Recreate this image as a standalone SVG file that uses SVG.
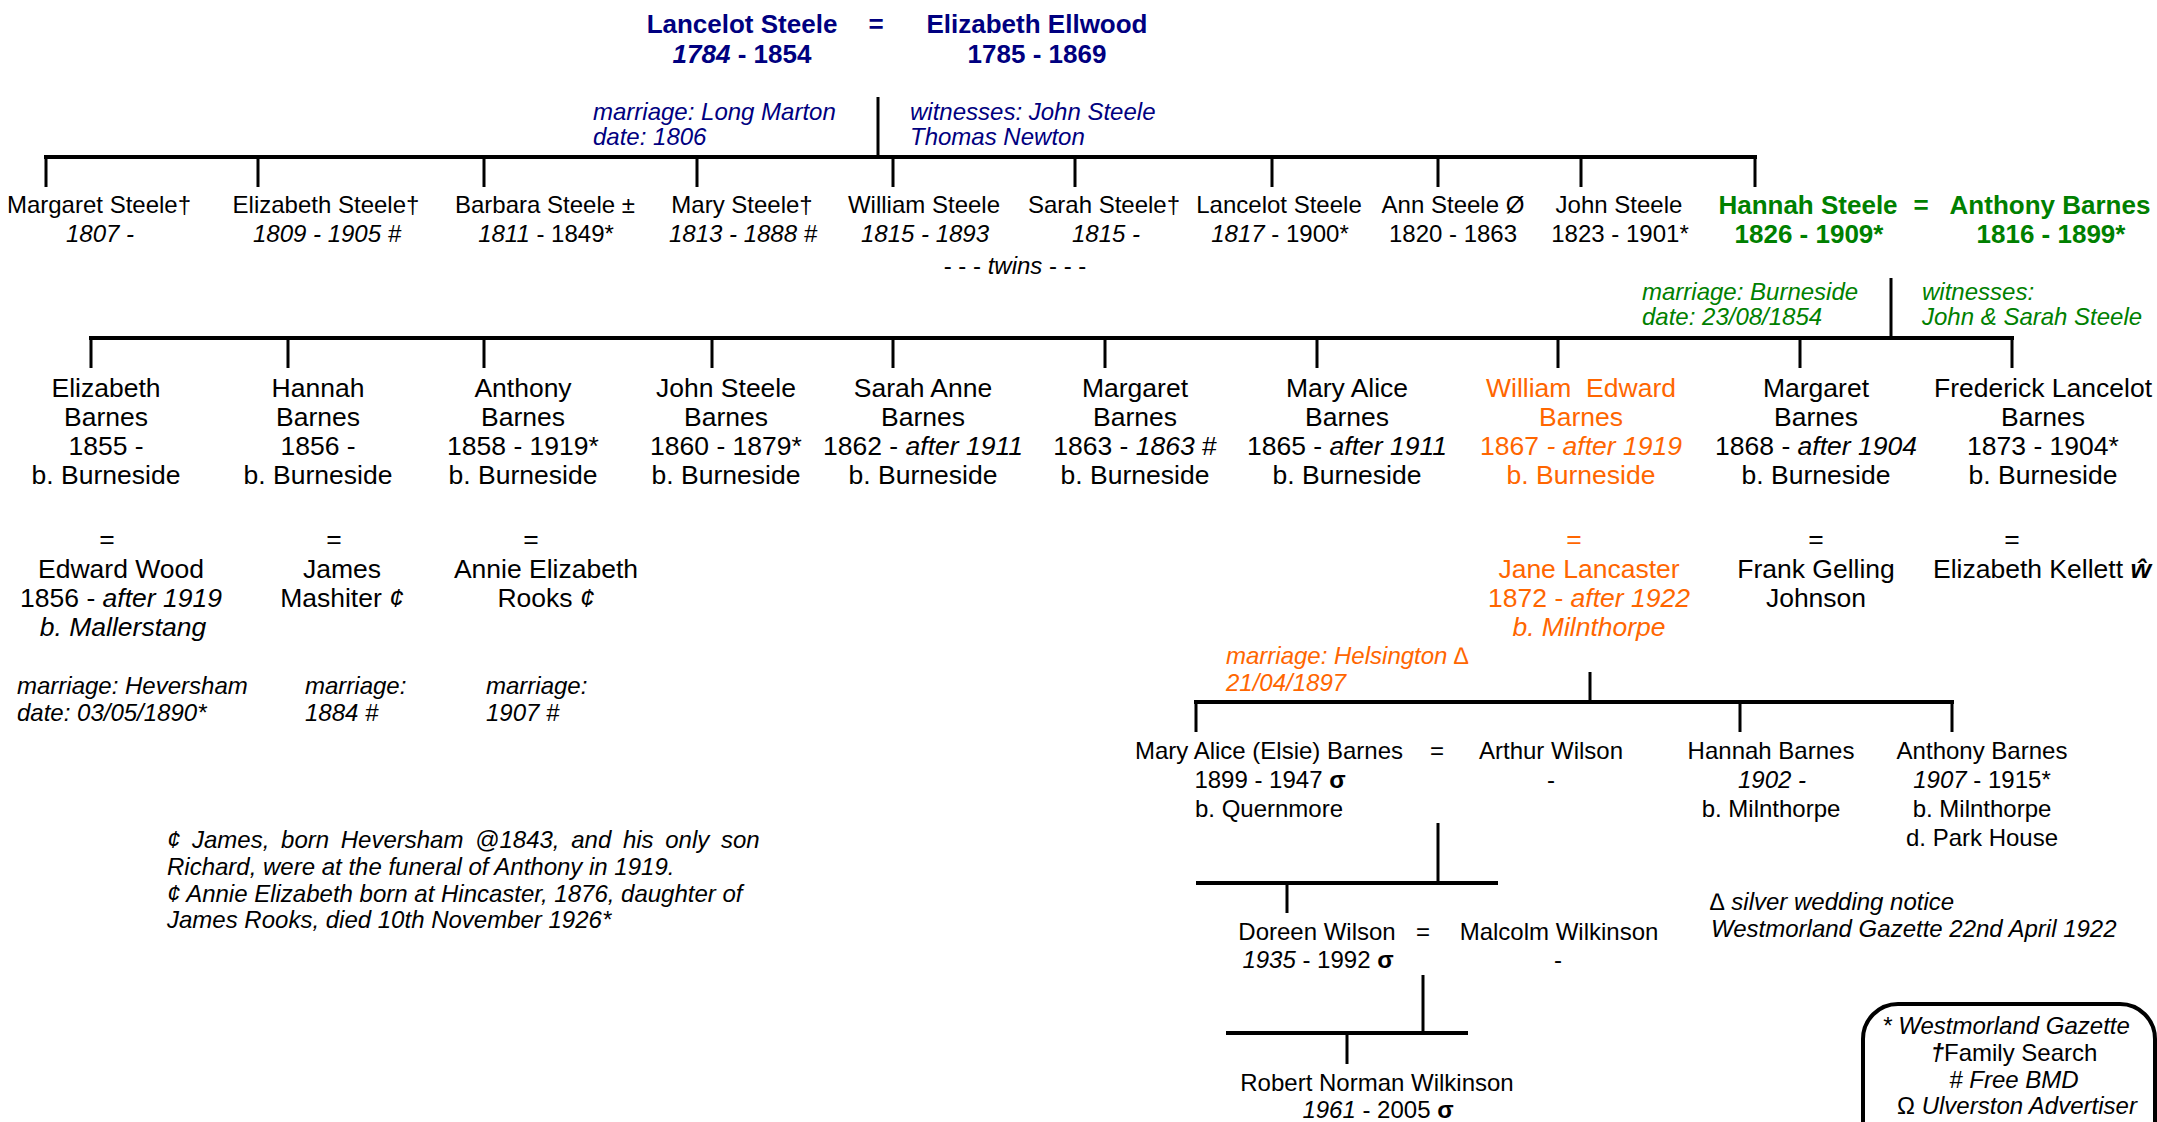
<svg xmlns="http://www.w3.org/2000/svg" width="2157" height="1122" viewBox="0 0 2157 1122">
<style>
text{font-family:"Liberation Sans",Arial,sans-serif;fill:#000}
.s24{font-size:24px}
.s26{font-size:26.5px}
.c{text-anchor:middle}
.b{font-weight:bold;font-size:26px}
.i{font-style:italic}
.r{font-style:normal}
.navy{fill:#000080}
.green{fill:#008000}
.orange{fill:#ff6600}
.h{stroke:#000;stroke-width:4;fill:none}
.v{stroke:#000;stroke-width:3;fill:none}
</style>
<rect width="2157" height="1122" fill="#fff"/>

<g id="connectors">
  <line class="v" x1="878" y1="97" x2="878" y2="157"/>
  <line class="h" x1="44" y1="157" x2="1757" y2="157"/>
  <path class="v" d="M46 157V187M258 157V187M484 157V187M697 157V187M893 157V187M1075 157V187M1272 157V187M1438 157V187M1581 157V187M1755 157V187"/>
  <line class="v" x1="1891" y1="278" x2="1891" y2="338"/>
  <line class="h" x1="89" y1="338" x2="2014" y2="338"/>
  <path class="v" d="M91 338V368M288 338V368M484 338V368M712 338V368M893 338V368M1105 338V368M1317 338V368M1558 338V368M1800 338V368M2012 338V368"/>
  <line class="v" x1="1590" y1="672" x2="1590" y2="702"/>
  <line class="h" x1="1194" y1="702" x2="1954" y2="702"/>
  <path class="v" d="M1196 702V732M1740 702V732M1952 702V732"/>
  <line class="v" x1="1438" y1="823" x2="1438" y2="883"/>
  <line class="h" x1="1196" y1="883" x2="1498" y2="883"/>
  <line class="v" x1="1287" y1="883" x2="1287" y2="913"/>
  <line class="v" x1="1423" y1="975" x2="1423" y2="1033"/>
  <line class="h" x1="1226" y1="1033" x2="1468" y2="1033"/>
  <line class="v" x1="1347" y1="1033" x2="1347" y2="1064"/>
</g>

<g id="lancelot-elizabeth">
  <text class="b navy c" x="742" y="33">Lancelot Steele</text>
  <text class="b navy c" x="742" y="63"><tspan class="i">1784</tspan> - 1854</text>
  <text class="b navy c" x="876" y="33">=</text>
  <text class="b navy c" x="1037" y="33">Elizabeth Ellwood</text>
  <text class="b navy c" x="1037" y="63">1785 - 1869</text>
</g>
<g id="marriage1">
  <text class="s24 i navy" x="593" y="120">marriage: Long Marton</text>
  <text class="s24 i navy" x="593" y="145">date: 1806</text>
  <text class="s24 i navy" x="910" y="120">witnesses: John Steele</text>
  <text class="s24 i navy" x="910" y="145">Thomas Newton</text>
</g>

<g id="margaret-steele"><text class="s24 c" x="99" y="213">Margaret Steele†</text><text class="s24 c i" x="100" y="242">1807 -</text></g>
<g id="elizabeth-steele"><text class="s24 c" x="326" y="213">Elizabeth Steele†</text><text class="s24 c i" x="327" y="242">1809 - 1905 #</text></g>
<g id="barbara-steele"><text class="s24 c" x="545" y="213">Barbara Steele ±</text><text class="s24 c" x="546" y="242"><tspan class="i">1811</tspan> - 1849*</text></g>
<g id="mary-steele"><text class="s24 c" x="742" y="213">Mary Steele†</text><text class="s24 c i" x="743" y="242">1813 - 1888 #</text></g>
<g id="william-steele"><text class="s24 c" x="924" y="213">William Steele</text><text class="s24 c i" x="925" y="242">1815 - 1893</text></g>
<g id="sarah-steele"><text class="s24 c" x="1104" y="213">Sarah Steele†</text><text class="s24 c i" x="1106" y="242">1815 -</text></g>
<g id="twins"><text class="s24 c" x="1015" y="274">- - -  <tspan class="i">twins</tspan>  - - -</text></g>
<g id="lancelot-steele"><text class="s24 c" x="1279" y="213">Lancelot Steele</text><text class="s24 c" x="1280" y="242"><tspan class="i">1817</tspan> - 1900*</text></g>
<g id="ann-steele"><text class="s24 c" x="1453" y="213">Ann Steele Ø</text><text class="s24 c" x="1453" y="242">1820 - 1863</text></g>
<g id="john-steele"><text class="s24 c" x="1619" y="213">John Steele</text><text class="s24 c" x="1620" y="242">1823 - 1901*</text></g>
<g id="hannah-anthony">
  <text class="b green c" x="1808" y="214">Hannah Steele</text>
  <text class="b green c" x="1809" y="243">1826 - 1909*</text>
  <text class="b green c" x="1921" y="214">=</text>
  <text class="b green c" x="2050" y="214">Anthony Barnes</text>
  <text class="b green c" x="2051" y="243">1816 - 1899*</text>
</g>
<g id="marriage2">
  <text class="s24 i green" x="1642" y="300">marriage: Burneside</text>
  <text class="s24 i green" x="1642" y="325">date: 23/08/1854</text>
  <text class="s24 i green" x="1922" y="300">witnesses:</text>
  <text class="s24 i green" x="1922" y="325">John &amp; Sarah Steele</text>
</g>

<g id="elizabeth-barnes" class="s26">
  <text class="s26 c" x="106" y="397">Elizabeth</text><text class="s26 c" x="106" y="426">Barnes</text><text class="s26 c" x="106" y="455">1855 -</text><text class="s26 c" x="106" y="484">b. Burneside</text>
  <text class="s26 c" x="107" y="548">=</text>
  <text class="s26 c" x="121" y="578">Edward Wood</text><text class="s26 c" x="121" y="607">1856 - <tspan class="i">after 1919</tspan></text><text class="s26 c i" x="123" y="636">b. Mallerstang</text>
</g>
<g id="hannah-barnes">
  <text class="s26 c" x="318" y="397">Hannah</text><text class="s26 c" x="318" y="426">Barnes</text><text class="s26 c" x="318" y="455">1856 -</text><text class="s26 c" x="318" y="484">b. Burneside</text>
  <text class="s26 c" x="334" y="548">=</text>
  <text class="s26 c" x="342" y="578">James</text><text class="s26 c" x="342" y="607">Mashiter <tspan class="i">¢</tspan></text>
</g>
<g id="anthony-barnes">
  <text class="s26 c" x="523" y="397">Anthony</text><text class="s26 c" x="523" y="426">Barnes</text><text class="s26 c" x="523" y="455">1858 - 1919*</text><text class="s26 c" x="523" y="484">b. Burneside</text>
  <text class="s26 c" x="531" y="548">=</text>
  <text class="s26 c" x="546" y="578">Annie Elizabeth</text><text class="s26 c" x="546" y="607">Rooks <tspan class="i">¢</tspan></text>
</g>
<g id="john-steele-barnes">
  <text class="s26 c" x="726" y="397">John Steele</text><text class="s26 c" x="726" y="426">Barnes</text><text class="s26 c" x="726" y="455">1860 - 1879*</text><text class="s26 c" x="726" y="484">b. Burneside</text>
</g>
<g id="sarah-anne-barnes">
  <text class="s26 c" x="923" y="397">Sarah Anne</text><text class="s26 c" x="923" y="426">Barnes</text><text class="s26 c" x="923" y="455">1862 - <tspan class="i">after 1911</tspan></text><text class="s26 c" x="923" y="484">b. Burneside</text>
</g>
<g id="margaret-barnes-1863">
  <text class="s26 c" x="1135" y="397">Margaret</text><text class="s26 c" x="1135" y="426">Barnes</text><text class="s26 c" x="1135" y="455">1863 - <tspan class="i">1863</tspan> #</text><text class="s26 c" x="1135" y="484">b. Burneside</text>
</g>
<g id="mary-alice-barnes">
  <text class="s26 c" x="1347" y="397">Mary Alice</text><text class="s26 c" x="1347" y="426">Barnes</text><text class="s26 c" x="1347" y="455">1865 - <tspan class="i">after 1911</tspan></text><text class="s26 c" x="1347" y="484">b. Burneside</text>
</g>
<g id="william-edward-barnes">
  <text class="s26 c orange" x="1581" y="397" xml:space="preserve">William  Edward</text><text class="s26 c orange" x="1581" y="426">Barnes</text><text class="s26 c orange" x="1581" y="455">1867 <tspan class="i">- after 1919</tspan></text><text class="s26 c orange" x="1581" y="484">b. Burneside</text>
  <text class="s26 c orange" x="1574" y="548">=</text>
  <text class="s26 c orange" x="1589" y="578">Jane Lancaster</text><text class="s26 c orange" x="1589" y="607">1872 - <tspan class="i">after 1922</tspan></text><text class="s26 c orange i" x="1589" y="636">b. Milnthorpe</text>
</g>
<g id="margaret-barnes-1868">
  <text class="s26 c" x="1816" y="397">Margaret</text><text class="s26 c" x="1816" y="426">Barnes</text><text class="s26 c" x="1816" y="455">1868 - <tspan class="i">after 1904</tspan></text><text class="s26 c" x="1816" y="484">b. Burneside</text>
  <text class="s26 c" x="1816" y="548">=</text>
  <text class="s26 c" x="1816" y="578">Frank Gelling</text><text class="s26 c" x="1816" y="607">Johnson</text>
</g>
<g id="frederick-barnes">
  <text class="s26 c" x="2043" y="397">Frederick Lancelot</text><text class="s26 c" x="2043" y="426">Barnes</text><text class="s26 c" x="2043" y="455">1873 - 1904*</text><text class="s26 c" x="2043" y="484">b. Burneside</text>
  <text class="s26 c" x="2012" y="548">=</text>
  <text class="s26 c" x="2042" y="578">Elizabeth Kellett <tspan class="i" font-weight="bold">ŵ</tspan></text>
</g>

<g id="marriage-notes">
  <text class="s24 i" x="17" y="694">marriage: Heversham</text>
  <text class="s24 i" x="17" y="721">date: 03/05/1890*</text>
  <text class="s24 i" x="305" y="694">marriage:</text>
  <text class="s24 i" x="305" y="721">1884 #</text>
  <text class="s24 i" x="486" y="694">marriage:</text>
  <text class="s24 i" x="486" y="721">1907 #</text>
</g>
<g id="footnote">
  <text class="s24 i" x="167" y="848" word-spacing="5">¢ James, born Heversham @1843, and his only son</text>
  <text class="s24 i" x="167" y="875">Richard, were at the funeral of Anthony in 1919.</text>
  <text class="s24 i" x="167" y="902">¢ Annie Elizabeth born at Hincaster, 1876, daughter of</text>
  <text class="s24 i" x="167" y="928">James Rooks, died 10th November 1926*</text>
</g>

<g id="marriage3">
  <text class="s24 i orange" x="1226" y="664">marriage: Helsington ∆</text>
  <text class="s24 i orange" x="1226" y="691">21/04/1897</text>
</g>
<g id="mary-alice-elsie">
  <text class="s24 c" x="1269" y="759">Mary Alice (Elsie) Barnes</text>
  <text class="s24 c" x="1270" y="788">1899 - 1947 <tspan font-weight="bold">σ</tspan></text>
  <text class="s24 c" x="1269" y="817">b. Quernmore</text>
  <text class="s24 c" x="1437" y="759">=</text>
  <text class="s24 c" x="1551" y="759">Arthur Wilson</text>
  <text class="s24 c" x="1551" y="788">-</text>
</g>
<g id="hannah-barnes-1902">
  <text class="s24 c" x="1771" y="759">Hannah Barnes</text>
  <text class="s24 c i" x="1772" y="788">1902 -</text>
  <text class="s24 c" x="1771" y="817">b. Milnthorpe</text>
</g>
<g id="anthony-barnes-1907">
  <text class="s24 c" x="1982" y="759">Anthony Barnes</text>
  <text class="s24 c" x="1982" y="788"><tspan class="i">1907</tspan> - 1915*</text>
  <text class="s24 c" x="1982" y="817">b. Milnthorpe</text>
  <text class="s24 c" x="1982" y="846">d. Park House</text>
</g>
<g id="silver-wedding">
  <text class="s24 i" x="1710" y="910">∆ silver wedding notice</text>
  <text class="s24 i" x="1711" y="937">Westmorland Gazette 22nd April 1922</text>
</g>
<g id="doreen-wilson">
  <text class="s24 c" x="1317" y="940">Doreen Wilson</text>
  <text class="s24 c" x="1318" y="968"><tspan class="i">1935</tspan> - 1992 <tspan font-weight="bold">σ</tspan></text>
  <text class="s24 c" x="1423" y="940">=</text>
  <text class="s24 c" x="1559" y="940">Malcolm Wilkinson</text>
  <text class="s24 c" x="1558" y="968">-</text>
</g>
<g id="robert-wilkinson">
  <text class="s24 c" x="1377" y="1091">Robert Norman Wilkinson</text>
  <text class="s24 c" x="1378" y="1118"><tspan class="i">1961</tspan> - 2005 <tspan font-weight="bold">σ</tspan></text>
</g>

<g id="legend">
  <rect x="1863" y="1004" width="292" height="170" rx="35" ry="35" fill="none" stroke="#000" stroke-width="4"/>
  <text class="s24 c i" x="2006" y="1034">* Westmorland Gazette</text>
  <text class="s24 c" x="2014" y="1061"><tspan class="i" font-weight="bold">†</tspan>Family Search</text>
  <text class="s24 c i" x="2014" y="1088"># Free BMD</text>
  <text class="s24 c" x="2017" y="1114">Ω <tspan class="i">Ulverston Advertiser</tspan></text>
</g>
</svg>
